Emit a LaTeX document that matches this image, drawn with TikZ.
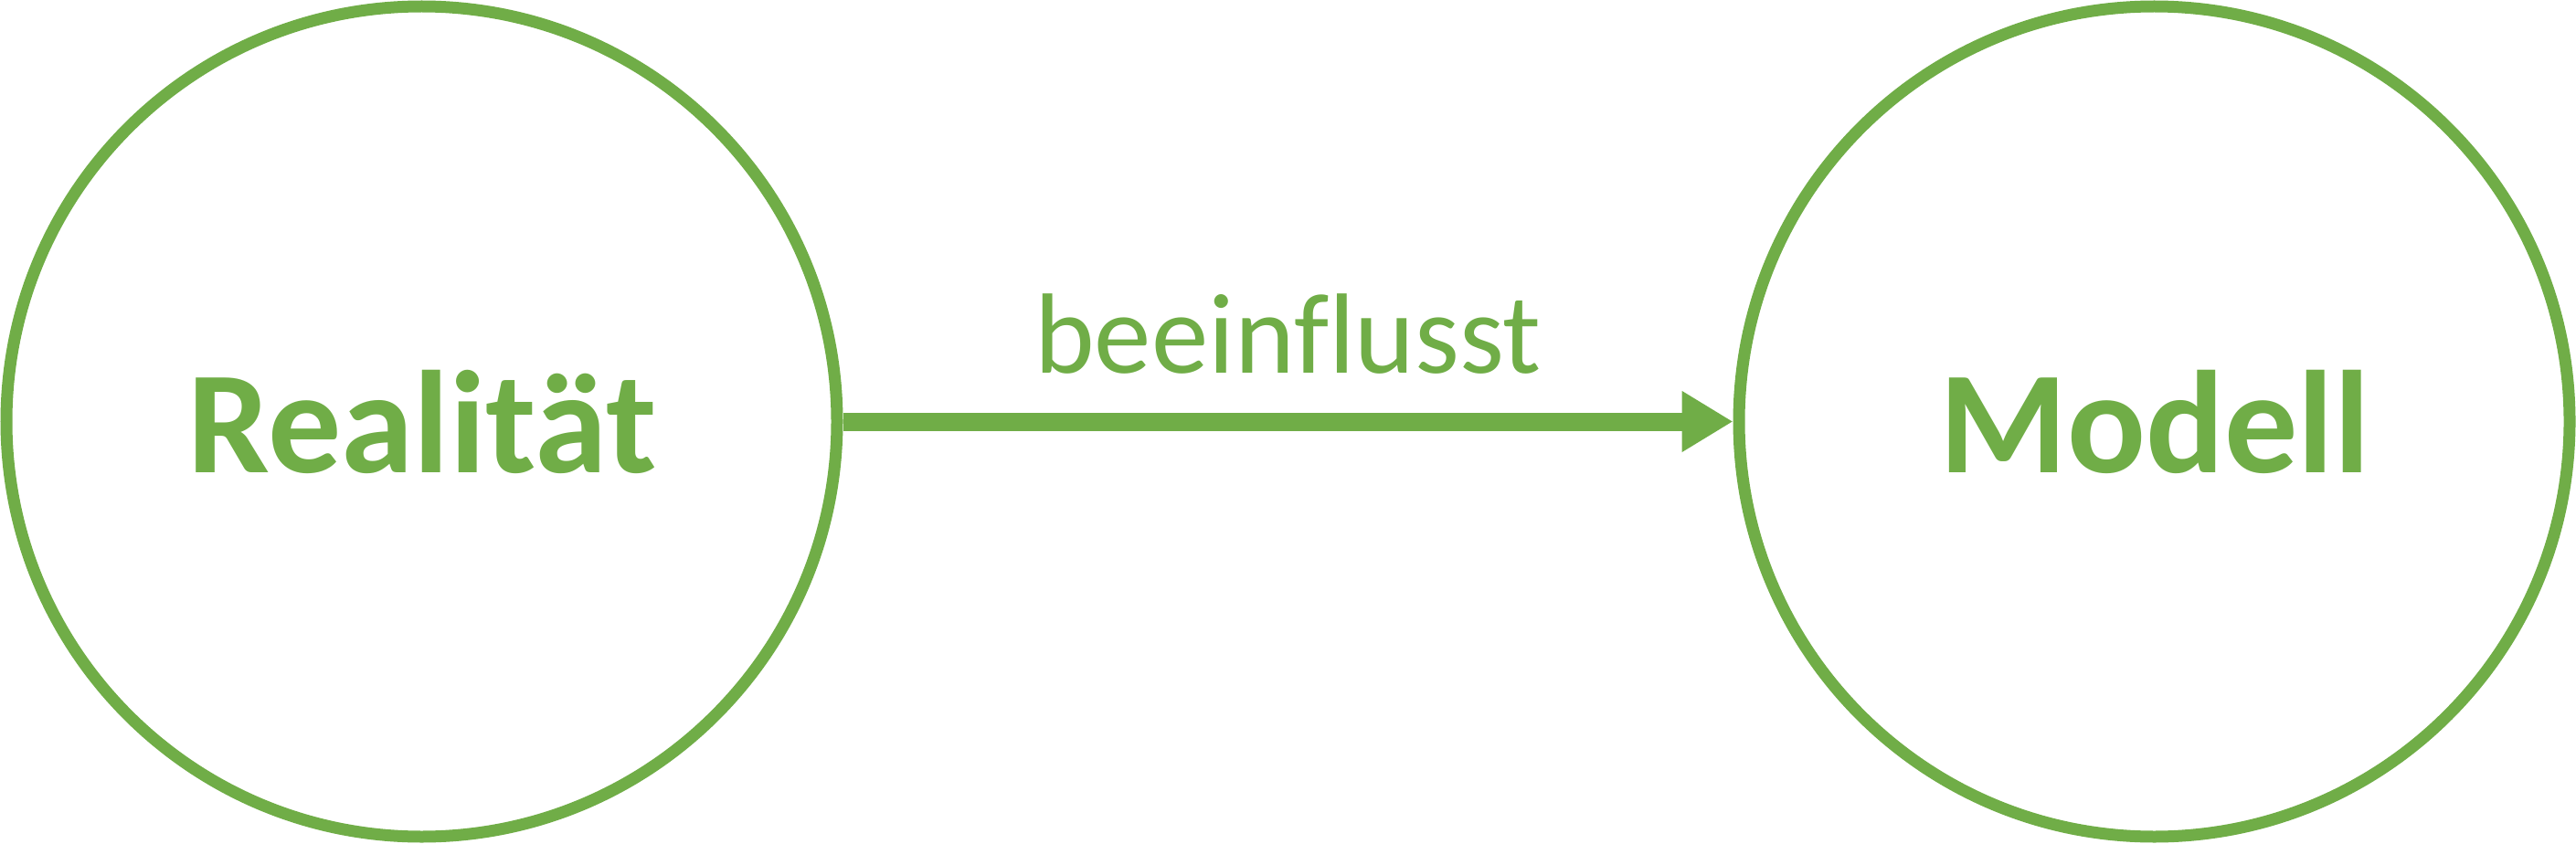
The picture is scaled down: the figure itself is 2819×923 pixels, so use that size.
\documentclass[tikz,border=0pt]{standalone}
\usepackage{fontspec}
\setmainfont{Carlito}[Ligatures=NoCommon]
\usetikzlibrary{arrows.meta}
\definecolor{grn}{HTML}{70AD47}
\begin{document}
\begin{tikzpicture}[x=0.5pt,y=0.5pt,
  ring/.style={circle,draw=grn,line width=6.5pt,minimum size=454.5pt,inner sep=0pt},
  bigtxt/.style={text=grn,font=\fontsize{80pt}{96pt}\selectfont\bfseries,anchor=base,inner sep=0pt},
  smalltxt/.style={text=grn,font=\fontsize{62.5pt}{75pt}\selectfont,anchor=base,inner sep=0pt},
  conn/.style={grn,line width=10pt,-{Triangle[length=28pt,width=31.5pt]}}]
\useasboundingbox (0,0) rectangle (2819,923);
\node[ring] (real) at (461.5,461.5) {};
\node[ring] (mod) at (2357.5,461.5) {};
\node[bigtxt] (realt) at (462,406) {Realität};
\node[bigtxt] (modt) at (2358,406) {Modell};
\draw[conn] (real) -- (mod);
\node[smalltxt] (lab) at (1409.5,515) {beeinflusst};
\end{tikzpicture}
\end{document}
